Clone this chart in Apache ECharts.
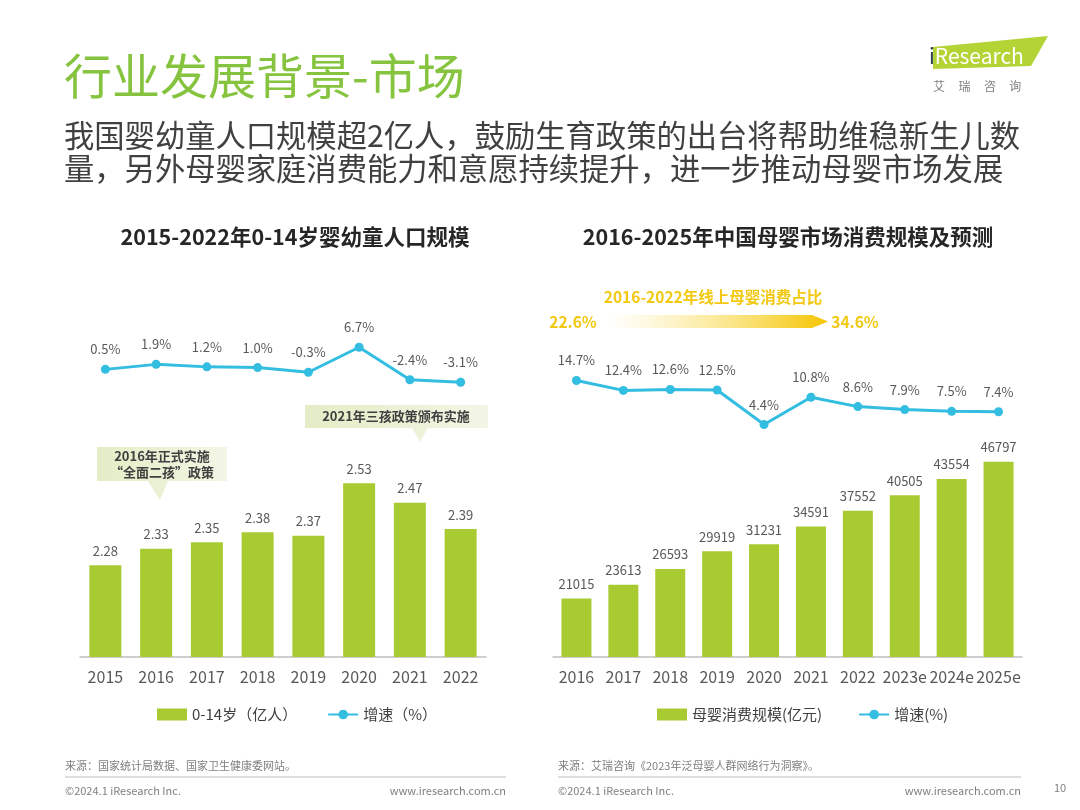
<!DOCTYPE html>
<html>
<head>
<meta charset="utf-8">
<script src="https://cdn.jsdelivr.net/npm/echarts@6/dist/echarts.min.js"></script>
<style>
  html, body { margin: 0; padding: 0; background: #fff; }
  #main { width: 1080px; height: 810px; }
</style>
</head>
<body>
<div id="main"></div>
<script>
// 左图：0-14岁婴幼童人口
var popYears = ['2015', '2016', '2017', '2018', '2019', '2020', '2021', '2022'];
var popValues = [2.28, 2.33, 2.35, 2.38, 2.37, 2.53, 2.47, 2.39];
var popGrowth = [0.5, 1.9, 1.2, 1.0, -0.3, 6.7, -2.4, -3.1];

// 右图：母婴市场消费规模
var mktYears = ['2016', '2017', '2018', '2019', '2020', '2021', '2022', '2023e', '2024e', '2025e'];
var mktValues = [21015, 23613, 26593, 29919, 31231, 34591, 37552, 40505, 43554, 46797];
var mktGrowth = [14.7, 12.4, 12.6, 12.5, 4.4, 10.8, 8.6, 7.9, 7.5, 7.4];

var FONT = '"Noto Sans CJK SC", "Noto Sans", sans-serif';
var GREEN = '#a8cb32';
var CYAN = '#33bde0';
var GREY = '#595959';
var GOLD = '#f2c811';

var myChart = echarts.init(document.getElementById('main'));

// 文本：x,y 为锚点，垂直居中
function txt(x, y, text, style) {
    return {
        type: 'text', x: x, y: y, silent: true,
        style: Object.assign({
            text: text, fontFamily: FONT, fill: '#404040', fontSize: 13,
            align: 'left', verticalAlign: 'middle'
        }, style)
    };
}

var bubbleFill = new echarts.graphic.LinearGradient(0, 0, 1, 0, [
    { offset: 0, color: '#e4edc6' },
    { offset: 0.6, color: '#ecf2d8' },
    { offset: 1, color: '#f3f6e6' }
]);

var arrowFill = new echarts.graphic.LinearGradient(0, 0, 1, 0, [
    { offset: 0, color: 'rgba(250,225,100,0)' },
    { offset: 1, color: '#f5c400' }
]);

function pct(p) {
    return p.value.toFixed(1) + '%';
}

myChart.setOption({
    textStyle: { fontFamily: FONT },
    animation: false,
    legend: [{
        data: [{ name: '0-14岁（亿人）', icon: 'rect' }, '增速（%）'],
        left: 152, top: 702, itemGap: 30, itemWidth: 30, itemHeight: 12,
        textStyle: { fontSize: 15, color: '#404040', fontFamily: FONT }
    }, {
        data: [{ name: '母婴消费规模(亿元)', icon: 'rect' }, '增速(%)'],
        left: 652, top: 702, itemGap: 36, itemWidth: 30, itemHeight: 12,
        textStyle: { fontSize: 15, color: '#404040', fontFamily: FONT }
    }],
    grid: [
        { left: 80, right: 594, top: 329, bottom: 153 },
        { left: 553, right: 58, top: 328, bottom: 153 }
    ],
    xAxis: [0, 1].map(function(i) {
        return {
            type: 'category', gridIndex: i,
            data: i === 0 ? popYears : mktYears,
            axisLine: { onZero: false, lineStyle: { color: '#bfbfbf', width: 1.5 } },
            axisTick: { show: false },
            axisLabel: { color: GREY, fontSize: 16, margin: 12, interval: 0 }
        };
    }),
    yAxis: [
        { type: 'value', gridIndex: 0, min: 2, max: 3, show: false, splitLine: { show: false } },
        { type: 'value', gridIndex: 0, min: -80, max: 11.8, show: false, splitLine: { show: false } },
        { type: 'value', gridIndex: 1, min: 10000, max: 72000, show: false, splitLine: { show: false } },
        { type: 'value', gridIndex: 1, min: -50, max: 27, show: false, splitLine: { show: false } }
    ],
    series: [{
        name: '0-14岁（亿人）', type: 'bar', xAxisIndex: 0, yAxisIndex: 0,
        data: popValues, barWidth: 32, itemStyle: { color: GREEN },
        label: { show: true, position: 'top', distance: 8, color: GREY, fontSize: 13 }
    }, {
        name: '增速（%）', type: 'line', xAxisIndex: 0, yAxisIndex: 1,
        data: popGrowth, symbol: 'circle', symbolSize: 9,
        lineStyle: { color: CYAN, width: 3 }, itemStyle: { color: CYAN },
        label: { show: true, position: 'top', distance: 9, color: GREY, fontSize: 13, formatter: pct }
    }, {
        name: '母婴消费规模(亿元)', type: 'bar', xAxisIndex: 1, yAxisIndex: 2,
        data: mktValues, barWidth: 30, itemStyle: { color: GREEN },
        label: { show: true, position: 'top', distance: 8, color: GREY, fontSize: 13 }
    }, {
        name: '增速(%)', type: 'line', xAxisIndex: 1, yAxisIndex: 3,
        data: mktGrowth, symbol: 'circle', symbolSize: 9,
        lineStyle: { color: CYAN, width: 3 }, itemStyle: { color: CYAN },
        label: { show: true, position: 'top', distance: 9, color: GREY, fontSize: 13, formatter: pct }
    }],
    graphic: [
        // 页面标题
        txt(64, 76, '行业发展背景-市场', { fontSize: 48, fill: '#86c440' }),
        txt(64, 135, '我国婴幼童人口规模超2亿人，鼓励生育政策的出台将帮助维稳新生儿数', { fontSize: 30.3 }),
        txt(64, 168, '量，另外母婴家庭消费能力和意愿持续提升，进一步推动母婴市场发展', { fontSize: 30.3 }),
        // 图表标题
        txt(295, 237, '2015-2022年0-14岁婴幼童人口规模', { fontSize: 21.5, fontWeight: 'bold', fill: '#262626', align: 'center' }),
        txt(788, 237, '2016-2025年中国母婴市场消费规模及预测', { fontSize: 21.5, fontWeight: 'bold', fill: '#262626', align: 'center' }),
        // logo
        {
            type: 'polygon', silent: true,
            shape: { points: [[933, 47], [1048, 36], [1031, 66], [933, 69]] },
            style: { fill: '#b4d334' }
        },
        txt(929, 56, '', {
            text: '{a|i}{b|Research}',
            rich: {
                a: { fontSize: 21, fill: '#2d4057', fontFamily: FONT },
                b: { fontSize: 21, fill: '#ffffff', fontFamily: FONT }
            }
        }),
        txt(933, 86, '艾     瑞     咨     询', { fontSize: 12, fill: '#808080' }),
        // 注释框 1
        {
            type: 'polygon', silent: true,
            shape: { points: [[97, 447], [227, 447], [227, 481], [168, 481], [160, 500], [148, 481], [97, 481]] },
            style: { fill: bubbleFill }
        },
        txt(162, 456, '2016年正式实施', { fontSize: 13, fontWeight: 'bold', align: 'center' }),
        txt(162, 472, '“全面二孩”政策', { fontSize: 13, fontWeight: 'bold', align: 'center' }),
        // 注释框 2
        {
            type: 'polygon', silent: true,
            shape: { points: [[305, 405], [488, 405], [488, 428], [428, 428], [420, 442], [412, 428], [305, 428]] },
            style: { fill: bubbleFill }
        },
        txt(396, 416, '2021年三孩政策颁布实施', { fontSize: 13, fontWeight: 'bold', align: 'center' }),
        // 线上占比箭头
        txt(713, 297, '2016-2022年线上母婴消费占比', { fontSize: 15.5, fontWeight: 'bold', fill: GOLD, align: 'center' }),
        txt(573, 322, '22.6%', { fontSize: 15.5, fontWeight: 'bold', fill: GOLD, align: 'center' }),
        {
            type: 'polygon', silent: true,
            shape: { points: [[608, 315], [812, 315], [828, 321.5], [812, 328], [608, 328]] },
            style: { fill: arrowFill }
        },
        txt(855, 322, '34.6%', { fontSize: 15.5, fontWeight: 'bold', fill: GOLD, align: 'center' }),
        // 页脚
        txt(65, 766, '来源：国家统计局数据、国家卫生健康委网站。', { fontSize: 11, fill: '#7f7f7f' }),
        { type: 'line', silent: true, shape: { x1: 65, y1: 777, x2: 506, y2: 777 }, style: { stroke: '#bfbfbf', lineWidth: 1 } },
        txt(65, 791, '©2024.1 iResearch Inc.', { fontSize: 11, fill: '#7f7f7f' }),
        txt(506, 791, 'www.iresearch.com.cn', { fontSize: 11, fill: '#7f7f7f', align: 'right' }),
        txt(558, 766, '来源：艾瑞咨询《2023年泛母婴人群网络行为洞察》。', { fontSize: 11, fill: '#7f7f7f' }),
        { type: 'line', silent: true, shape: { x1: 558, y1: 777, x2: 1021, y2: 777 }, style: { stroke: '#bfbfbf', lineWidth: 1 } },
        txt(558, 791, '©2024.1 iResearch Inc.', { fontSize: 11, fill: '#7f7f7f' }),
        txt(1021, 791, 'www.iresearch.com.cn', { fontSize: 11, fill: '#7f7f7f', align: 'right' }),
        txt(1054, 788, '10', { fontSize: 11, fill: '#7f7f7f' })
    ]
});
</script>
</body>
</html>
